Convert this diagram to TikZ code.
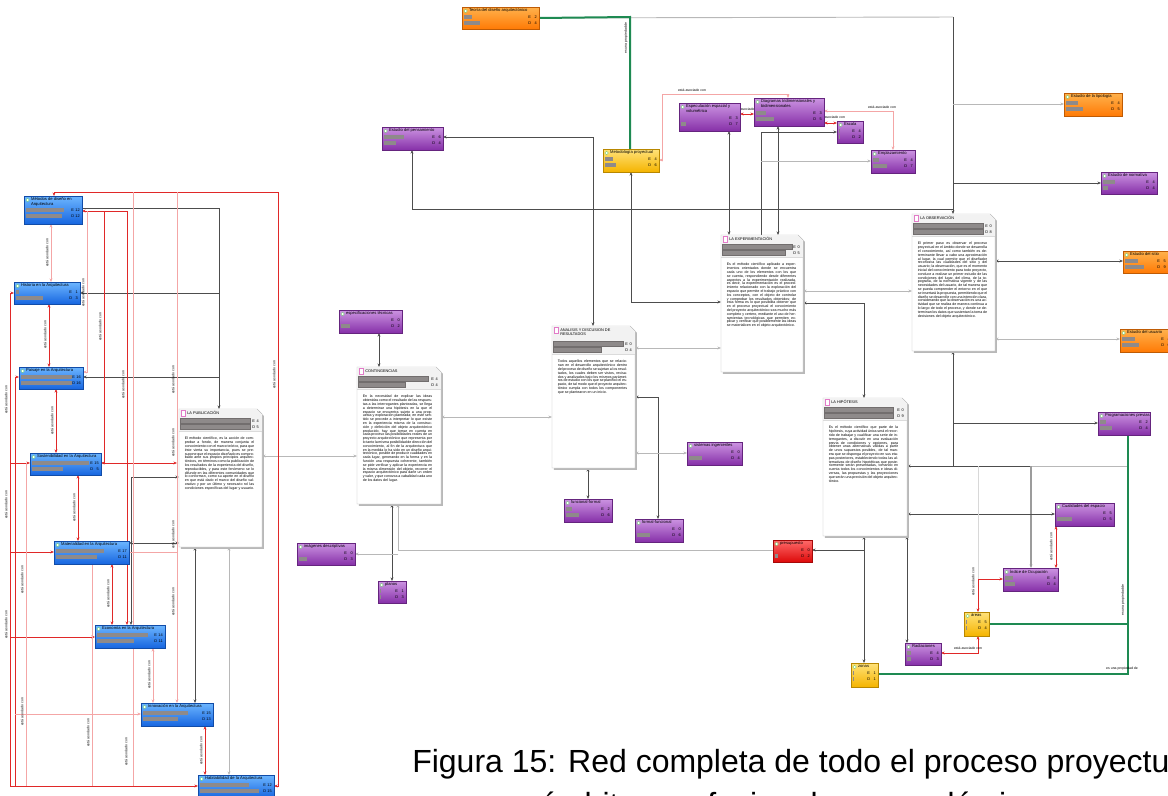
\documentclass[tikz,border=0pt]{standalone}
\usepackage{fontspec}
\setmainfont{Liberation Sans}
\usetikzlibrary{arrows.meta,calc,fit}
\tolerance=9999 \emergencystretch=4pt \hbadness=10000 \hfuzz=2pt

\pgfdeclarelayer{paper}
\pgfdeclarelayer{links}
\pgfsetlayers{paper,links,main}

\definecolor{lineDark}{HTML}{4D4D4D}
\definecolor{lineLight}{HTML}{B8B8B8}
\definecolor{lineFaint}{HTML}{D8D8D8}
\definecolor{assocRed}{HTML}{E02828}
\definecolor{assocPale}{HTML}{F4A6A6}
\definecolor{propGreen}{HTML}{1E8A52}
\definecolor{barGray}{HTML}{8E8A8A}
\definecolor{blueTop}{HTML}{6DB6FF}
\definecolor{blueBot}{HTML}{1766E0}
\definecolor{orangeTop}{HTML}{FFB24D}
\definecolor{orangeBot}{HTML}{FF7A05}
\definecolor{purpleTop}{HTML}{CC94E2}
\definecolor{purpleBot}{HTML}{8630A8}
\definecolor{yellowTop}{HTML}{FFE27A}
\definecolor{yellowBot}{HTML}{F5B400}
\definecolor{redTop}{HTML}{FF6A6A}
\definecolor{redBot}{HTML}{DD0A0A}
\definecolor{memoPink}{HTML}{E27BC8}

\tikzset{
  >={Stealth[length=2.7pt,width=2.2pt]},
  lnkDark/.style={draw=lineDark,line width=0.7pt},
  lnkLight/.style={draw=lineLight,line width=0.7pt},
  lnkFaint/.style={draw=lineFaint,line width=0.7pt},
  lnkHeavy/.style={draw=lineLight!85!black,line width=1.4pt},
  lnkAssoc/.style={draw=assocRed,line width=0.7pt},
  lnkPale/.style={draw=assocPale,line width=0.7pt},
  lnkProp/.style={draw=propGreen,line width=1.5pt},
  lbl/.style={font=\fontsize{2.6}{3}\selectfont,inner sep=0.3pt},
  vlbl/.style={lbl,rotate=90},
  ttl/.style={font=\fontsize{3.1}{3.8}\selectfont,inner sep=0pt,align=left,anchor=north west},
  numtxt/.style={font=\fontsize{2.9}{3}\selectfont,inner sep=0pt},
  mtitle/.style={font=\fontsize{2.9}{3.6}\selectfont,inner sep=0pt,align=left,anchor=north west},
  mbody/.style={font=\fontsize{2.7}{2.85}\selectfont,inner sep=0pt,anchor=north west,text width=52pt,align=justify},
  cbox/.style={inner sep=0pt,outer sep=0pt},
}

% code node: name, x, y, w, h, palette, title
\newcommand\codebox[7]{%
  \node[cbox,fit={(#2,#3) ({#2+#4},{#3+#5})}] (#1) {};
  \fill[black!30] ($(#1.north west)+(1.2,1.2)$) rectangle ($(#1.south east)+(1.2,1.2)$);
  \shade[top color=#6Top,bottom color=#6Bot,draw=#6Bot!75!black,line width=.25pt]
    (#1.north west) rectangle (#1.south east);
  \filldraw[fill=white,draw=green!40!lineLight,line width=.3pt]
    ($(#1.north west)+(3.6,4)$) circle (1.3pt);
  \node[ttl] at ($(#1.north west)+(6.8,1.6)$) {#7};
}
% two statistic rows of a code node: name, first row offset, bar 1, E, bar 2, D
\newcommand\codestats[6]{%
  \fill[barGray] ($(#1.north west)+(2,{#2-2})$) rectangle ++(#3,4);
  \fill[barGray] ($(#1.north west)+(2,{#2+4})$) rectangle ++(#5,4);
  \node[numtxt,anchor=base west] at ($(#1.north east)+(-11,{#2+1.5})$) {E};
  \node[numtxt,anchor=base east] at ($(#1.north east)+(-2,{#2+1.5})$) {#4};
  \node[numtxt,anchor=base west] at ($(#1.north east)+(-11,{#2+7.5})$) {D};
  \node[numtxt,anchor=base east] at ($(#1.north east)+(-2,{#2+7.5})$) {#6};
}
% memo: name, x, y, w, h, title, extra header height, body
\newcommand\memo[8]{%
  \node[cbox,fit={(#2,#3) ({#2+#4},{#3+#5})}] (#1) {};
  \fill[black!28] ($(#1.north west)+(1.8,1.8)$) -- ($(#1.north east)+(-3.2,1.8)$)
    -- ($(#1.north east)+(1.8,6.8)$) -- ($(#1.south east)+(1.8,1.8)$)
    -- ($(#1.south west)+(1.8,1.8)$) -- cycle;
  \filldraw[fill=white,draw=black!28,line width=.3pt] (#1.north west)
    -- ($(#1.north east)+(-5,0)$) -- ($(#1.north east)+(0,5)$)
    -- (#1.south east) -- (#1.south west) -- cycle;
  \fill[black!5] ($(#1.north west)+(0.4,0.4)$) -- ($(#1.north east)+(-5.2,0.4)$)
    -- ($(#1.north east)+(-0.4,5.2)$) -- ($(#1.north east)+(-0.4,{22+#7})$)
    -- ($(#1.north west)+(0.4,{22+#7})$) -- cycle;
  \draw[black!14,line width=.3pt] ($(#1.north west)+(0.4,{22+#7})$) -- ($(#1.north east)+(-0.4,{22+#7})$);
  \filldraw[fill=white,draw=memoPink,line width=.35pt] ($(#1.north west)+(2,1.6)$) rectangle ++(3.8,5.6);
  \node[mtitle] at ($(#1.north west)+(8,2.2)$) {#6};
  \node[mbody] at ($(#1.north west)+(5.5,{28+#7})$) {#8};
}
% header statistics of a memo: name, extra header height, bar 1, E, bar 2, D
\newcommand\memostats[6]{%
  \filldraw[fill=barGray,draw=barGray!80!black,line width=.2pt] ($(#1.north west)+(1.5,{9+#2})$) rectangle ++(#3,4.8);
  \filldraw[fill=barGray,draw=barGray!80!black,line width=.2pt] ($(#1.north west)+(1.5,{15.5+#2})$) rectangle ++(#5,4.8);
  \node[numtxt,anchor=base west] at ($(#1.north east)+(-10,{13.2+#2})$) {E};
  \node[numtxt,anchor=base east] at ($(#1.north east)+(-3,{13.2+#2})$) {#4};
  \node[numtxt,anchor=base west] at ($(#1.north east)+(-10,{19.7+#2})$) {D};
  \node[numtxt,anchor=base east] at ($(#1.north east)+(-3,{19.7+#2})$) {#6};
}

\begin{document}
\begin{tikzpicture}[x=0.75pt,y=-0.75pt]
\useasboundingbox (0,0) rectangle (1168,796);
\begin{pgfonlayer}{paper}
\fill[white] (0,0) rectangle (1168,796);
\end{pgfonlayer}
\clip (0,0) rectangle (1168,796);

% ---------- architecture codes (left column) ----------
\codebox{metodos}{24}{196}{58}{28}{blue}{Métodos de diseño en\\Arquitectura}
\codestats{metodos}{14}{38}{12}{36}{12}
\codebox{historia}{14}{282}{66}{22}{blue}{Historia en la Arquitectura}
\codestats{historia}{10}{3}{1}{27}{3}
\codebox{paisaje}{19}{367}{64}{22}{blue}{Paisaje en la Arquitectura}
\codestats{paisaje}{10}{51}{16}{51}{16}
\codebox{sost}{30}{453}{71}{22}{blue}{Sostenibilidad en la Arquitectura}
\codestats{sost}{10}{57}{15}{31}{5}
\codebox{mat}{54}{541}{75}{23}{blue}{Materialidad en la Arquitectura}
\codestats{mat}{10}{48}{17}{41}{11}
\codebox{eco}{95}{625}{70}{23}{blue}{Economía en la Arquitectura}
\codestats{eco}{10}{51}{14}{37}{11}
\codebox{inno}{141}{703}{72}{23}{blue}{Innovación en la Arquitectura}
\codestats{inno}{10}{45}{15}{35}{13}
\codebox{hab}{198}{775}{76}{23}{blue}{Habitabilidad de la Arquitectura}
\codestats{hab}{10}{49}{12}{59}{15}

% ---------- remaining codes ----------
\codebox{teoria}{462}{7}{77}{22}{orange}{Teoría del diseño arquitectónico}
\codestats{teoria}{10}{8}{2}{16}{4}
\codebox{pensamiento}{382}{127}{61}{23}{purple}{Estudio del pensamiento}
\codestats{pensamiento}{10}{20}{6}{12}{4}
\codebox{metodologia}{603}{149}{56}{23}{yellow}{Metodología proyectual}
\codestats{metodologia}{10}{8}{4}{11}{6}
\codebox{especulacion}{679}{103}{61}{28}{purple}{Especulación espacial y\\volumétrica}
\codestats{especulacion}{15}{0}{3}{5}{7}
\codebox{diagramas}{754}{98}{70}{28}{purple}{Diagramas tridimensionales y\\bidimensionales}
\codestats{diagramas}{15}{10}{3}{18}{5}
\codebox{escala}{837}{121}{26}{22}{purple}{Escala}
\codestats{escala}{10}{1}{4}{1}{2}
\codebox{emplazamiento}{871}{150}{44}{23}{purple}{Emplazamiento}
\codestats{emplazamiento}{10}{6}{4}{14}{7}
\codebox{tipologia}{1064}{93}{58}{23}{orange}{Estudio de la tipología}
\codestats{tipologia}{10}{12}{4}{17}{5}
\codebox{normativa}{1101}{172}{56}{22}{purple}{Estudio de normativa}
\codestats{normativa}{10}{12}{4}{5}{4}
\codebox{sitio}{1123}{251}{45}{22}{orange}{Estudio del sitio}
\codestats{sitio}{10}{13}{5}{19}{9}
\codebox{usuario}{1120}{329}{52}{23}{orange}{Estudio del usuario}
\codestats{usuario}{10}{13}{4}{17}{6}
\codebox{especificaciones}{339}{310}{63}{23}{purple}{especificaciones técnicas}
\codestats{especificaciones}{10}{0}{0}{9}{2}
\codebox{imagenes}{297}{543}{58}{22}{purple}{imágenes descriptivas}
\codestats{imagenes}{10}{0}{0}{8}{3}
\codebox{planos}{378}{581}{28}{22}{purple}{planos}
\codestats{planos}{10}{1}{1}{1}{3}
\codebox{funcional}{564}{499}{48}{23}{purple}{funcional-formal}
\codestats{funcional}{10}{6}{2}{13}{6}
\codebox{formalf}{635}{519}{48}{23}{purple}{formal-funcional}
\codestats{formalf}{10}{0}{0}{13}{6}
\codebox{sistemas}{687}{442}{55}{23}{purple}{sistemas ingenieriles}
\codestats{sistemas}{10}{0}{0}{13}{4}
\codebox{presupuesto}{773}{540}{39}{22}{red}{presupuesto}
\codestats{presupuesto}{10}{0}{0}{3}{2}
\codebox{programaciones}{1098}{412}{52}{23}{purple}{Programaciones previas}
\codestats{programaciones}{10}{6}{2}{12}{4}
\codebox{cualidades}{1055}{503}{59}{23}{purple}{Cualidades del espacio}
\codestats{cualidades}{10}{0}{5}{15}{5}
\codebox{indice}{1003}{568}{55}{23}{purple}{Índice de Ocupación}
\codestats{indice}{10}{8}{4}{10}{4}
\codebox{areas}{964}{612}{25}{24}{yellow}{áreas}
\codestats{areas}{10}{1}{5}{1}{4}
\codebox{radiaciones}{905}{643}{36}{22}{purple}{Radiaciones}
\codestats{radiaciones}{10}{4}{4}{4}{3}
\codebox{zonas}{851}{663}{27}{24}{yellow}{zonas}
\codestats{zonas}{10}{1}{1}{1}{1}

% ---------- memos ----------
\memo{publ}{179}{409}{83}{138}{LA PUBLICACIÓN}{0}{El método científico, es la acción de comprobar a fondo, de manera conjunta el conocimiento con el marco teórico, para que éste vierta su importancia, pues se presupone que el espacio diseñado es comprobado ante sus propios principios arquitectónicos, en términos como la publicación de los resultados de la experiencia del diseño, reproducibles, y para este fenómeno se lo difunde en las diferentes comunidades que lo conforman, como su aporte en el diseño en que está dado el marco del diseño valorativo y por un último y necesario rol las condiciones específicas del lugar y usuario.}
\memostats{publ}{0}{70}{4}{70}{5}
\memo{cont}{357}{367}{84}{137}{CONTINGENCIAS}{0}{En la necesidad de explicar las ideas obtenidas como el resultado de las respuestas a las interrogantes planteadas, se llega a determinar una hipótesis en la que el espacio se encuentra sujeto a una propuesta y exploración planteada; en este sentido se procede a interpretar lo que existe en la experiencia misma de la construcción y definición del objeto arquitectónico producido, hay que tomar en cuenta en cada proceso las posibilidades reales de un proyecto arquitectónico que representa por lo tanto la misma posibilidad de dirección del conocimiento, al fin de la arquitectura que en la medida lo ha sido en un diseño arquitectónico, posible de producir cualidades en cada lugar, generando en la forma y en la función una respuesta coherente, también se pide verificar y aplicar la experiencia en la misma dimensión del objeto, recorrer el espacio arquitectónico para darle un orden y valor, y que conozca a cabalidad cada uno de los datos del lugar.}
\memostats{cont}{0}{70}{4}{47}{4}
\memo{analisis}{552}{326}{83}{142}{ANALISIS Y DISCUSION DE\\RESULTADOS}{6}{Todos aquellos elementos que se relacionan en el desarrollo arquitectónico dentro del proceso de diseño se sujetan a los resultados, los cuales deben ser vistos, revisados y analizados bajo los mismos parámetros de estudio con los que se planificó el espacio, de tal modo que el proyecto arquitectónico cumpla con todos los componentes que se plantearon en un inicio.}
\memostats{analisis}{6}{70}{0}{48}{4}
\memo{exp}{721}{235}{82}{137}{LA EXPERIMENTACIÓN}{0}{Es el método científico aplicado a experimentos orientados donde se encuentra cada uno de los elementos con los que se cuenta, respondiendo desde diferentes aspectos a la experimentación realizada, es decir, la experimentación es el procedimiento relacionado con la exploración del espacio que permite el trabajo práctico con los conceptos, con el objeto de controlar y comprobar los resultados obtenidos; de esta forma es lo que posibilita obtener que en el proceso proyectual el conocimiento del proyecto arquitectónico sea mucho más completo y certero, mediante el uso de herramientas tecnológicas que permiten explicar y verificar que posiblemente las ideas se materialicen en el objeto arquitectónico.}
\memostats{exp}{0}{70}{0}{63}{5}
\memo{obs}{912}{214}{83}{137}{LA OBSERVACIÓN}{0}{\raggedright El primer paso es observar el proceso proyectual en el ámbito donde se desarrolla el conocimiento, así como también es determinante llevar a cabo una aproximación al lugar, la cual permite que el diseñador reconozca las cualidades del sitio y del usuario; la observación, que es el momento inicial del conocimiento para todo proyecto, conduce a realizar un primer estudio de las condiciones del lugar, del clima, de la topografía, de la normativa vigente y de las necesidades del usuario, de tal manera que se pueda comprender el entorno en el que se insertará la propuesta, permitiendo que el diseño se desarrolle con una intención clara, considerando que la observación es una actividad que se realiza de manera continua a lo largo de todo el proceso, y donde se determinan los datos que sustentan la toma de decisiones del objeto arquitectónico.}
\memostats{obs}{0}{70}{0}{70}{8}
\memo{hip}{823}{398}{84}{138}{LA HIPÓTESIS}{0}{Es el método científico que parte de la hipótesis, cuya actividad única será el recorrido de trabajar y cualificar una serie de interrogantes, a discutir en una evaluación previa de condiciones y opciones, para obtener unas alternativas válidas a partir de unos supuestos posibles, de tal manera que se disponga el proyecto en sus etapas posteriores, estableciendo todas las alternativas de diseño hipotéticas que posteriormente serán presentadas, tomando en cuenta todos los conocimientos e ideas diversas, las propuestas y las proyecciones que serán una precisión del objeto arquitectónico.}
\memostats{hip}{0}{69}{0}{69}{9}

% ---------- caption ----------
\node[font=\fontsize{24}{28}\selectfont,anchor=base west,inner sep=0pt] (cap1) at (412,772)
  {Figura 15: Red completa de todo el proceso proyectual en};
\node[font=\fontsize{24}{28}\selectfont,anchor=base west,inner sep=0pt] (cap2) at (540,815)
  {ámbitos profesionales y académicos};

% ---------- links ----------
\begin{pgfonlayer}{links}
% theory box: spine towards the observation memo
\draw[lnkLight] (teoria.east) -- (953,17);
\draw[lnkDark,->] (953,17) -- (obs.north -| 953,0);
\draw[lnkLight,->] (953,104) -- (tipologia.west |- 0,104);
\draw[lnkDark,->] (953,183) -- (normativa.west |- 0,183);
\draw[lnkDark,<-] (pensamiento.south -| 412,0) |- (953,209);
\draw[lnkDark,<->] (pensamiento.east |- 0,137) -| (analisis.north -| 593,0);
\draw[lnkProp] (teoria.east) -- (630,17) -- (metodologia.north -| 630,0);
\node[vlbl] at (626,38) {es una propiedad de};

% experimentation
\draw[lnkDark,<->] (metodologia.south -| 631,0) |- (exp.west |- 0,302);
\draw[lnkDark,<->] (especulacion.south -| 729,0) -- (exp.north -| 729,0);
\draw[lnkDark,<->] (diagramas.south -| 778,0) -- (exp.north -| 778,0);
\draw[lnkDark,->] (exp.north -| 761,0) |- (escala.west |- 0,132);
\draw[lnkLight,->] (761,161) -- (emplazamiento.west |- 0,161);
\draw[lnkLight,<->] (exp.east |- 0,291) -- (obs.west |- 0,291);
\draw[lnkDark,<->] (exp.east |- 0,303) -| (hip.north -| 864,0);
\draw[lnkLight,<->] (analisis.east |- 0,348) -- (exp.west |- 0,348);

% observation
\draw[lnkDark,<->] (obs.east |- 0,261) -- (sitio.west |- 0,261);
\draw[lnkLight,<->] (obs.east |- 0,339) -- (usuario.west |- 0,339);
\draw[lnkDark,<-] (obs.south -| 953,0) -- (953,466);
\draw[lnkDark,<-] (hip.east |- 0,466) -- (1031,466);
\draw[lnkLight] (1031,466) -- (1128,466);
\draw[lnkDark,->] (953,423) -- (programaciones.west |- 0,423);
\draw[lnkHeavy,->] (1031,466) -- (indice.north -| 1031,0);

% hypothesis
\draw[lnkDark,<->] (hip.east |- 0,514) -- (cualidades.west |- 0,514);
\draw[lnkDark,<->] (hip.south -| 864,0) -- (zonas.north -| 864,0);
\draw[lnkDark,->] (864,550) -- (presupuesto.east |- 0,550);
\draw[lnkDark,<->] (hip.south -| 907,0) -- (radiaciones.north -| 907,0);
\draw[lnkFaint] (978,466) -- (978,579);
\draw[lnkAssoc,<->] (indice.west |- 0,579) -- (978,579) -- (areas.north -| 978,0);
\draw[lnkAssoc,<->] (areas.south -| 978,0) |- (radiaciones.east |- 0,653);
\draw[lnkAssoc,<->] (cualidades.south -| 1056,0) -- (indice.north -| 1056,0);
\draw[lnkProp] (areas.east |- 0,624) -- (1128,624);
\draw[lnkProp] (zonas.east |- 0,674) -- (1128,674) -- (programaciones.south -| 1128,0);
\node[lbl] at (968,648.5) {está asociado con};
\node[vlbl] at (973,582) {está asociado con};
\node[vlbl] at (1051,547) {está asociado con};
\node[vlbl] at (1123,600) {es una propiedad de};
\node[lbl] at (1122,669) {es una propiedad de};

% analysis and contingencies
\draw[lnkDark,<->] (analisis.south -| 588,0) -- (funcional.north -| 588,0);
\draw[lnkDark,<->] (analisis.east |- 0,397) -| (formalf.north -| 658,0);
\draw[lnkLight,<->] (analisis.east |- 0,453) -- (sistemas.west |- 0,453);
\draw[lnkLight,<->] (cont.east |- 0,417) -- (analisis.west |- 0,417);
\draw[lnkDark,<->] (cont.north -| 379,0) -- (especificaciones.south -| 379,0);
\draw[lnkDark,<->] (cont.south -| 392,0) -- (planos.north -| 392,0);
\draw[lnkLight,<-] (cont.south -| 398,0) |- (presupuesto.west |- 0,550);
\draw[lnkLight,->] (398,554) -- (imagenes.east |- 0,554);
\draw[lnkLight,<->] (publ.east |- 0,456) -- (cont.west |- 0,456);

% top middle associations
\draw[lnkPale,<->] (metodologia.east |- 0,160) -- (662,160) -- (662,94) -- (788,94) -- (diagramas.north -| 788,0);
\node[lbl] at (692,90) {está asociado con};
\node[lbl] at (747,109.5) {está asociado con};
\draw[lnkAssoc,<->] (especulacion.east |- 0,114) -- (diagramas.west |- 0,114);
\draw[lnkAssoc,<->] (diagramas.east |- 0,123) -- (escala.west |- 0,123);
\node[lbl] at (831,117.5) {está asociado con};
\draw[lnkPale,<->] (diagramas.east |- 0,111) -- (893,111) -- (emplazamiento.north -| 893,0);
\node[lbl] at (882,107) {está asociado con};

% publication memo and the architecture codes
\draw[lnkDark,->] (metodos.east |- 0,208) -| (publ.north -| 219,0);
\draw[lnkDark,<-] (historia.east |- 0,293) -- (219,293);
\draw[lnkDark,<-] (paisaje.east |- 0,377) -- (219,377);
\draw[lnkDark,<->] (eco.north -| 131,0) |- (publ.west |- 0,477);
\draw[lnkDark,<->] (mat.east |- 0,543) -- (publ.west |- 0,543);
\draw[lnkDark,<->] (publ.south -| 195,0) -- (inno.north -| 195,0);
\draw[lnkLight,<->] (publ.south -| 229,0) -- (hab.north -| 229,0);

% associations among the architecture codes
\draw[lnkPale,<->] (metodos.south -| 51,0) -- (historia.north -| 51,0);
\draw[lnkAssoc,<->] (historia.south -| 49,0) -- (paisaje.north -| 49,0);
\draw[lnkAssoc,<->] (paisaje.south -| 56,0) -- (sost.north -| 56,0);
\draw[lnkAssoc,<->] (sost.south -| 78,0) -- (mat.north -| 78,0);
\draw[lnkAssoc,<->] (mat.south -| 112,0) -- (eco.north -| 112,0);
\draw[lnkPale,<->] (eco.south -| 153,0) -- (inno.north -| 153,0);
\draw[lnkAssoc,<->] (inno.south -| 205,0) -- (hab.north -| 205,0);
\draw[lnkAssoc,<->] (metodos.north -| 54,0) -- (54,192) -- (278,192) -- (278,786) -- (hab.east |- 0,786);
\draw[lnkAssoc,<->] (metodos.east |- 0,211) -- (104,211) -- (104,463) -- (sost.east |- 0,463);
\draw[lnkAssoc,->] (104,463) -- (177,463);
\draw[lnkAssoc,->] (104,211) -- (127,211) -- (eco.north -| 127,0);
\draw[lnkPale] (133,192) -- (133,786);
\draw[lnkPale,->] (177,192) -- (inno.north -| 177,0);
\draw[lnkPale,->] (87,211) -- (87,372) -- (paisaje.east |- 0,372);
\draw[lnkPale] (mat.east |- 0,552) -- (177,552);
\draw[lnkAssoc,<->] (historia.west |- 0,293) -- (10,293) -- (10,786) -- (hab.west |- 0,786);
\draw[lnkAssoc,->] (15,786) -- (15,377) -- (paisaje.west |- 0,377);
\draw[lnkAssoc,->] (10,463) -- (sost.west |- 0,463);
\draw[lnkAssoc,->] (10,552) -- (mat.west |- 0,552);
\draw[lnkAssoc,->] (10,637) -- (eco.west |- 0,637);
\draw[lnkPale,->] (15,714) -- (inno.west |- 0,714);
\draw[lnkPale] (26,463) -- (26,786);
\draw[lnkPale] (mat.south -| 92,0) -- (92,786);
\foreach \px/\py in {47/253, 45/335, 52/421, 74/508, 108/594, 149/675, 201/751,
    274/375, 100/327, 83/293, 123/385, 173/380, 173/443, 173/535, 173/602,
    6/400, 6/505, 6/625, 22/580, 22/712, 88/733, 126/752}
  \node[vlbl] at (\px,\py) {está asociado con};
\end{pgfonlayer}
\end{tikzpicture}
\end{document}
